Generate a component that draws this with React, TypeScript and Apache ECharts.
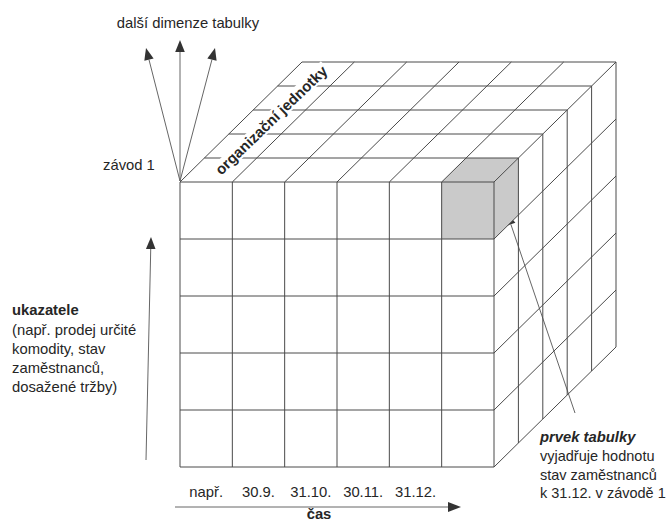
import React, { useEffect, useRef } from "react";
import * as echarts from "echarts";

// ---- data ----
const timeLabels = ["např.", "30.9.", "31.10.", "30.11.", "31.12.", ""];
const indicatorCount = 5; // rows (ukazatele)
const unitCount = 5; // depth (organizační jednotky)
const highlightedCell = [5, 0, 0]; // [time column, indicator row, unit depth]
const leftNoteLines = ["(např. prodej určité", "komodity, stav", "zaměstnanců,", "dosažené tržby)"];
const rightNoteLines = ["vyjadřuje hodnotu", "stav zaměstnanců", "k 31.12. v závodě 1"];

// ---- layout / style ----
const DX = 24.4;
const DY = -24;
const LINE = "#4a4a4a";
const TEXT = "#262626";
const FONT = "'Liberation Sans', Arial, Helvetica, sans-serif";
const FS = 14.8;

function arrow(x1: number, y1: number, x2: number, y2: number, head = 12, w = 4.8) {
  const len = Math.hypot(x2 - x1, y2 - y1);
  const ux = (x2 - x1) / len;
  const uy = (y2 - y1) / len;
  const bx = x2 - ux * head;
  const by = y2 - uy * head;
  const nx = -uy;
  const ny = ux;
  return [
    { type: "line", shape: { x1, y1, x2: bx, y2: by }, style: { stroke: "#666", lineWidth: 1 } },
    {
      type: "polygon",
      shape: { points: [[x2, y2], [bx + nx * w, by + ny * w], [bx - nx * w, by - ny * w]] },
      style: { fill: "#333" },
    },
  ];
}

function txt(text: string, x: number, y: number, extra: any = {}) {
  return {
    type: "text",
    x,
    y,
    style: {
      text,
      fill: TEXT,
      fontSize: FS,
      fontFamily: FONT,
      align: "left",
      verticalAlign: "middle",
      ...extra,
    },
  };
}

export default function App() {
  const ref = useRef<HTMLDivElement>(null);
  useEffect(() => {
    if (!ref.current) return;
    const chart = echarts.init(ref.current, undefined, { renderer: "svg" });
    const cols = timeLabels.length;

    const proj = (api: any, c: number, r: number, d: number) => {
      const p = api.coord([c, r]);
      return [p[0] + d * DX, p[1] + d * DY];
    };

    const gridRender = (_params: any, api: any) => {
      const children: any[] = [];
      const seg = (a: number[], b: number[]) =>
        children.push({
          type: "line",
          shape: { x1: a[0], y1: a[1], x2: b[0], y2: b[1] },
          style: { stroke: LINE, lineWidth: 1 },
        });
      for (let c = 0; c <= cols; c++) seg(proj(api, c, 0, 0), proj(api, c, indicatorCount, 0));
      for (let r = 0; r <= indicatorCount; r++) seg(proj(api, 0, r, 0), proj(api, cols, r, 0));
      for (let c = 0; c <= cols; c++) seg(proj(api, c, 0, 0), proj(api, c, 0, unitCount));
      for (let d = 1; d <= unitCount; d++) seg(proj(api, 0, 0, d), proj(api, cols, 0, d));
      for (let d = 1; d <= unitCount; d++) seg(proj(api, cols, 0, d), proj(api, cols, indicatorCount, d));
      for (let r = 1; r <= indicatorCount; r++) seg(proj(api, cols, r, 0), proj(api, cols, r, unitCount));
      return { type: "group", children };
    };

    const cellRender = (_params: any, api: any) => {
      const c = api.value(0);
      const r = api.value(1);
      const d = api.value(2);
      const fill = { fill: "#cacaca", stroke: "none" };
      const poly = (pts: number[][]) => ({ type: "polygon", shape: { points: pts }, style: fill });
      return {
        type: "group",
        children: [
          poly([proj(api, c, r, d), proj(api, c + 1, r, d), proj(api, c + 1, r + 1, d), proj(api, c, r + 1, d)]),
          poly([proj(api, c, r, d), proj(api, c + 1, r, d), proj(api, c + 1, r, d + 1), proj(api, c, r, d + 1)]),
          poly([proj(api, c + 1, r, d), proj(api, c + 1, r + 1, d), proj(api, c + 1, r + 1, d + 1), proj(api, c + 1, r, d + 1)]),
        ],
      };
    };

    const graphics: any[] = [
      ...arrow(180, 181, 146, 48),
      ...arrow(180, 181, 180, 40),
      ...arrow(180, 181, 215, 48),
      ...arrow(146, 460, 151, 237),
      ...arrow(175, 507, 461, 507, 13, 5),
      ...arrow(575, 413, 507, 213),
      txt("další dimenze tabulky", 188, 23, { align: "center" }),
      txt("závod 1", 103, 165),
      {
        type: "text",
        x: 271,
        y: 120,
        rotation: (44 * Math.PI) / 180,
        style: {
          text: "organizační jednotky",
          fill: TEXT,
          fontSize: 15,
          fontWeight: "bold",
          fontFamily: FONT,
          align: "center",
          verticalAlign: "middle",
          backgroundColor: "#fff",
          padding: [0, 2],
        },
        z: 10,
      },
      txt("ukazatele", 12, 310, { fontWeight: "bold" }),
      ...leftNoteLines.map((l, i) => txt(l, 12, 329.5 + i * 19.3)),
      txt("čas", 319, 514, { align: "center", fontWeight: "bold" }),
      txt("prvek tabulky", 540, 437, { fontWeight: "bold", fontStyle: "italic" }),
      ...rightNoteLines.map((l, i) => txt(l, 540, 456 + i * 18.5, { fontSize: 14.5 })),
    ];

    chart.setOption({
      animation: false,
      backgroundColor: "#fff",
      grid: { left: 180, top: 182, width: 314, height: 285 },
      xAxis: [
        { type: "value", min: 0, max: timeLabels.length, show: false },
        {
          type: "category",
          data: timeLabels,
          position: "bottom",
          boundaryGap: true,
          axisLine: { show: false },
          axisTick: { show: false },
          splitLine: { show: false },
          axisLabel: { margin: 17, color: TEXT, fontSize: FS, fontFamily: FONT, interval: 0 },
        },
      ],
      yAxis: { type: "value", min: 0, max: indicatorCount, inverse: true, show: false },
      series: [
        {
          type: "custom",
          xAxisIndex: 0,
          yAxisIndex: 0,
          clip: false,
          z: 1,
          data: [highlightedCell],
          renderItem: cellRender,
        },
        {
          type: "custom",
          xAxisIndex: 0,
          yAxisIndex: 0,
          clip: false,
          z: 2,
          data: [[0]],
          renderItem: gridRender,
        },
      ],
      graphic: graphics,
    });
    return () => chart.dispose();
  }, []);
  return (
    <div
      ref={ref}
      style={{ position: "fixed", left: 0, top: 0, width: 669, height: 523, background: "#fff" }}
    />
  );
}
